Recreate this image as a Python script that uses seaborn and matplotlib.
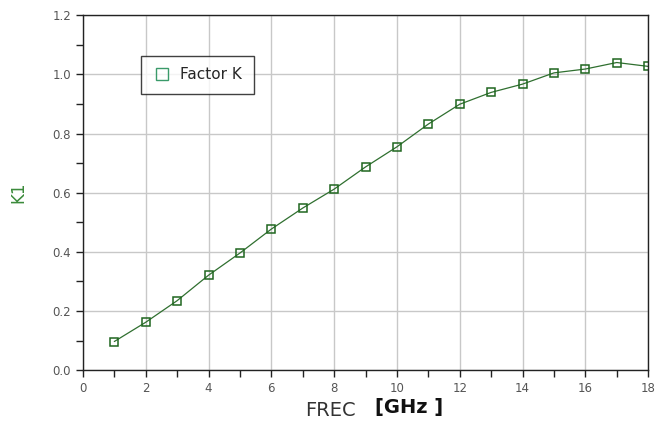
import numpy as np
import pandas as pd
import matplotlib
matplotlib.use("Agg")
import matplotlib.pyplot as plt
import seaborn as sns
from matplotlib.ticker import MultipleLocator
from matplotlib.lines import Line2D

freq_ghz = [1, 2, 3, 4, 5, 6, 7, 8, 9, 10, 11, 12, 13, 14, 15, 16, 17, 18]
factor_k = [0.097, 0.162, 0.235, 0.321, 0.396, 0.477, 0.548, 0.612, 0.687,
            0.755, 0.832, 0.899, 0.939, 0.967, 1.005, 1.018, 1.040, 1.027]

df = pd.DataFrame({"freq": freq_ghz, "k1": factor_k})

sns.set_style("white")
plt.rcParams["font.family"] = ["DejaVu Sans"]

fig = plt.figure(figsize=(6.58, 4.34), dpi=100)
ax = fig.add_axes([0.126, 0.147, 0.859, 0.818])

sns.lineplot(data=df, x="freq", y="k1", ax=ax, color="#2f6f2f", linewidth=0.9,
             marker="s", markersize=5.5, markerfacecolor="none",
             markeredgecolor="#1f661f", markeredgewidth=1.1)

ax.set_xlim(0, 18)
ax.set_ylim(0, 1.2)
ax.xaxis.set_major_locator(MultipleLocator(2))
ax.xaxis.set_minor_locator(MultipleLocator(1))
ax.yaxis.set_major_locator(MultipleLocator(0.2))
ax.yaxis.set_minor_locator(MultipleLocator(0.1))
ax.yaxis.set_major_formatter(matplotlib.ticker.FormatStrFormatter("%.1f"))
ax.grid(True, which="major", color="#c8c8c8", linewidth=1.0)
ax.set_axisbelow(True)
ax.tick_params(which="both", direction="out", length=5, width=1, color="#222222",
               labelsize=8.5, labelcolor="#555555", bottom=True, left=True)
for sp in ax.spines.values():
    sp.set_color("#222222")
    sp.set_linewidth(1.0)

ax.set_xlabel("")
ax.set_ylabel("K1", color="#3a8a3a", fontsize=12, labelpad=18)

fig.text(0.463, 0.055, "FREC", fontsize=14, color="#333333", ha="left", va="center")
fig.text(0.570, 0.060, "[GHz ]", fontsize=14, color="#111111", ha="left", va="center",
         fontweight="semibold")

handle = Line2D([], [], linestyle="none", marker="s", markersize=9,
                markerfacecolor="none", markeredgecolor="#3a9a6a", markeredgewidth=1.0)
leg = ax.legend([handle], ["Factor K"], loc="upper left", bbox_to_anchor=(0.09, 0.907),
                frameon=True, fancybox=False, fontsize=11, handletextpad=0.6,
                borderpad=0.75, handlelength=1.2)
leg.get_frame().set_edgecolor("#111111")
leg.get_frame().set_linewidth(1.0)

fig.savefig("out.png", dpi=100)
